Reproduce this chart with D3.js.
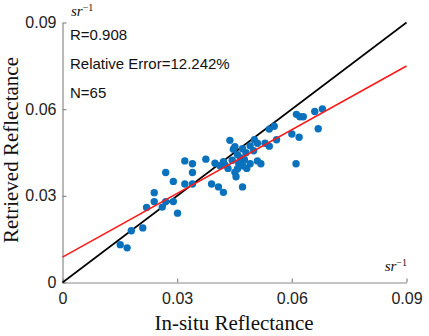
<!DOCTYPE html>
<html>
<head>
<meta charset="UTF-8"/>
<style>
  body { margin: 0; background: #fff; }
</style>
</head>
<body>
<script src="https://cdn.jsdelivr.net/npm/d3@7"></script>
<script>
// in-situ vs retrieved reflectance (sr^-1), 65 match-ups
var insitu = [0.0151, 0.0169, 0.0180, 0.0210, 0.0220, 0.0240, 0.0240, 0.0261, 0.0270, 0.0270,
              0.0290, 0.0290, 0.0301, 0.0320, 0.0320, 0.0340, 0.0340, 0.0340, 0.0375, 0.0390,
              0.0399, 0.0408, 0.0421, 0.0421, 0.0425, 0.0438, 0.0447, 0.0451, 0.0451, 0.0458,
              0.0461, 0.0466, 0.0469, 0.0471, 0.0471, 0.0471, 0.0476, 0.0491, 0.0491, 0.0502,
              0.0510, 0.0510, 0.0519, 0.0530, 0.0541, 0.0541, 0.0554, 0.0560, 0.0600, 0.0611,
              0.0612, 0.0619, 0.0621, 0.0630, 0.0660, 0.0669, 0.0680,
              0.0458, 0.0480, 0.0433, 0.0444, 0.0482, 0.0454, 0.0500, 0.0412];
var retrieved = [0.0131, 0.0120, 0.0179, 0.0189, 0.0260, 0.0311, 0.0280, 0.0261, 0.0280, 0.0381,
                 0.0350, 0.0280, 0.0240, 0.0341, 0.0421, 0.0411, 0.0381, 0.0341, 0.0427, 0.0341,
                 0.0413, 0.0331, 0.0312, 0.0418, 0.0407, 0.0492, 0.0461, 0.0470, 0.0382, 0.0394,
                 0.0413, 0.0431, 0.0415, 0.0404, 0.0463, 0.0331, 0.0425, 0.0473, 0.0411, 0.0494,
                 0.0482, 0.0421, 0.0411, 0.0482, 0.0472, 0.0531, 0.0541, 0.0494, 0.0514, 0.0411,
                 0.0582, 0.0503, 0.0574, 0.0574, 0.0592, 0.0532, 0.0601,
                 0.0442, 0.0449, 0.0395, 0.0423, 0.0395, 0.0366, 0.0456, 0.0404];

var axisTicks = [0, 0.03, 0.06, 0.09];
var statLines = ["R=0.908", "Relative Error=12.242%", "N=65"];
var fitSlope = 0.735, fitIntercept = 0.0088;

var W = 429, H = 336;
var svg = d3.select("body").append("svg")
    .attr("width", W)
    .attr("height", H);

var x = d3.scaleLinear().domain([0, 0.09]).range([62.5, 406.5]);
var y = d3.scaleLinear().domain([0, 0.09]).range([282.5, 22.5]);

var fmt = function(d){ return d === 0 ? "0" : d.toFixed(2); };

var xAxis = svg.append("g")
    .attr("transform", "translate(0," + y(0) + ")")
    .call(d3.axisBottom(x).tickValues(axisTicks).tickFormat(fmt)
          .tickSizeInner(-4).tickSizeOuter(0).tickPadding(10));

var yAxis = svg.append("g")
    .attr("transform", "translate(" + x(0) + ",0)")
    .call(d3.axisLeft(y).tickValues(axisTicks).tickFormat(fmt)
          .tickSizeInner(-4).tickSizeOuter(0).tickPadding(6));

[xAxis, yAxis].forEach(function(a){
  a.selectAll("path, line").attr("stroke", "#8a8a8a").attr("stroke-width", 1.2);
  a.selectAll("text")
    .attr("font-family", "Liberation Sans, Arial, sans-serif")
    .attr("font-size", 16)
    .attr("fill", "#222");
});

// 1:1 line and regression line
var lineFn = d3.line().x(function(d){ return x(d[0]); }).y(function(d){ return y(d[1]); });
svg.append("path")
    .attr("d", lineFn([[0, 0], [0.09, 0.09]]))
    .attr("stroke", "#000").attr("stroke-width", 1.6).attr("fill", "none");

// dots
svg.selectAll("circle.pt")
    .data(d3.range(insitu.length))
    .enter().append("circle")
      .attr("class", "pt")
      .attr("cx", function(i){ return x(insitu[i]); })
      .attr("cy", function(i){ return y(retrieved[i]); })
      .attr("r", 3.7)
      .attr("fill", "#0a72bd");

svg.append("path")
    .attr("d", lineFn([[0, fitIntercept], [0.09, fitIntercept + fitSlope * 0.09]]))
    .attr("stroke", "#ff1a1a").attr("stroke-width", 1.6).attr("fill", "none");

// stats text
svg.selectAll("text.stat")
    .data(statLines)
    .enter().append("text")
      .attr("class", "stat")
      .attr("x", 70)
      .attr("y", function(d, i){ return 39.5 + i * 29; })
      .attr("font-family", "Liberation Sans, Arial, sans-serif")
      .attr("font-size", 15)
      .attr("fill", "#111")
      .text(function(d){ return d; });

// units
var unit = function(xx, yy, anchor){
  var t = svg.append("text")
      .attr("x", xx).attr("y", yy)
      .attr("text-anchor", anchor)
      .attr("font-family", "Liberation Serif, Times New Roman, serif")
      .attr("font-style", "italic")
      .attr("font-size", 15)
      .attr("fill", "#111");
  t.append("tspan").text("sr");
  t.append("tspan").attr("dy", -5).attr("font-size", 10).attr("font-style", "normal").text("\u22121");
};
unit(71, 16, "start");
unit(407, 271, "end");

// axis titles
svg.append("text")
    .attr("x", 234).attr("y", 330)
    .attr("text-anchor", "middle")
    .attr("font-family", "Liberation Serif, Times New Roman, serif")
    .attr("font-size", 21)
    .attr("fill", "#111")
    .text("In-situ Reflectance");

svg.append("text")
    .attr("transform", "translate(18,150) rotate(-90)")
    .attr("text-anchor", "middle")
    .attr("font-family", "Liberation Serif, Times New Roman, serif")
    .attr("font-size", 21)
    .attr("fill", "#111")
    .text("Retrieved Reflectance");
</script>
</body>
</html>
